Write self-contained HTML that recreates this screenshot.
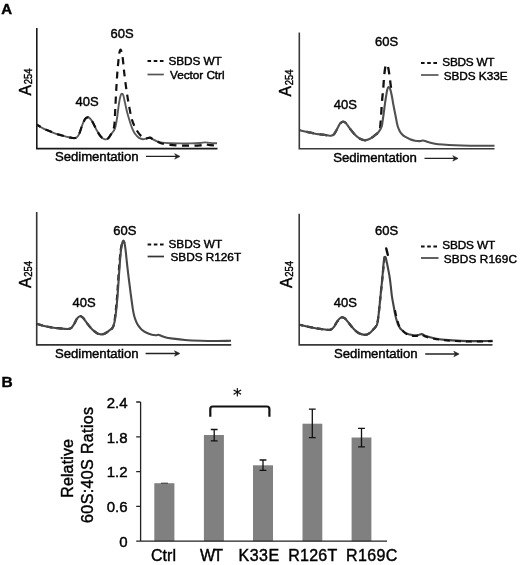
<!DOCTYPE html>
<html><head><meta charset="utf-8"><title>Figure</title>
<style>html,body{margin:0;padding:0;background:#fff}svg{display:block;filter:blur(.35px)}text{fill:#000;stroke:#000;stroke-width:.42px}</style></head>
<body>
<svg width="520" height="565" viewBox="0 0 520 565" font-family="'Liberation Sans', Arial, sans-serif" fill="#111">
<rect width="520" height="565" fill="#fff"/>
<text x="1.2" y="14.2" font-size="15" font-weight="bold">A</text>
<text x="1.4" y="387.2" font-size="15.5" font-weight="bold">B</text>
<path d="M36.8,28V148.6H217.5" fill="none" stroke="#1a1a1a" stroke-width="1.6"/>
<path d="M37.00,124.80C38.00,125.38 40.83,127.22 43.00,128.30C45.17,129.38 47.67,130.33 50.00,131.30C52.33,132.27 54.50,133.27 57.00,134.10C59.50,134.93 62.50,135.67 65.00,136.30C67.50,136.93 70.17,137.65 72.00,137.90C73.83,138.15 74.83,138.40 76.00,137.80C77.17,137.20 78.00,136.30 79.00,134.30C80.00,132.30 81.00,128.33 82.00,125.80C83.00,123.27 84.08,120.52 85.00,119.10C85.92,117.68 86.67,117.40 87.50,117.30C88.33,117.20 89.08,117.58 90.00,118.50C90.92,119.42 91.83,120.75 93.00,122.80C94.17,124.85 95.67,128.47 97.00,130.80C98.33,133.13 99.67,135.38 101.00,136.80C102.33,138.22 103.83,139.02 105.00,139.30C106.17,139.58 107.00,139.33 108.00,138.50C109.00,137.67 110.17,135.42 111.00,134.30C111.83,133.18 112.33,132.80 113.00,131.80C113.67,130.80 114.33,130.55 115.00,128.30C115.67,126.05 116.33,122.47 117.00,118.30C117.67,114.13 118.38,107.13 119.00,103.30C119.62,99.47 120.20,96.92 120.70,95.30C121.20,93.68 121.57,93.60 122.00,93.60C122.43,93.60 122.80,93.77 123.30,95.30C123.80,96.83 124.38,100.05 125.00,102.80C125.62,105.55 126.33,109.13 127.00,111.80C127.67,114.47 128.17,116.13 129.00,118.80C129.83,121.47 131.00,125.30 132.00,127.80C133.00,130.30 133.83,132.12 135.00,133.80C136.17,135.48 137.67,136.98 139.00,137.90C140.33,138.82 141.67,139.23 143.00,139.30C144.33,139.37 145.83,138.57 147.00,138.30C148.17,138.03 149.00,137.53 150.00,137.70C151.00,137.87 151.83,138.70 153.00,139.30C154.17,139.90 155.50,140.75 157.00,141.30C158.50,141.85 159.83,142.28 162.00,142.60C164.17,142.92 167.00,143.07 170.00,143.20C173.00,143.33 176.67,143.37 180.00,143.40C183.33,143.43 186.67,143.47 190.00,143.40C193.33,143.33 197.50,143.17 200.00,143.00C202.50,142.83 203.33,142.42 205.00,142.40C206.67,142.38 208.00,142.75 210.00,142.90C212.00,143.05 215.83,143.23 217.00,143.30" fill="none" stroke="#5a5a5a" stroke-width="1.9" stroke-linejoin="round"/>
<path d="M37.00,124.80C38.00,125.38 40.83,127.22 43.00,128.30C45.17,129.38 47.67,130.33 50.00,131.30C52.33,132.27 54.50,133.27 57.00,134.10C59.50,134.93 62.50,135.67 65.00,136.30C67.50,136.93 70.17,137.65 72.00,137.90C73.83,138.15 74.83,138.40 76.00,137.80C77.17,137.20 78.00,136.30 79.00,134.30C80.00,132.30 81.00,128.33 82.00,125.80C83.00,123.27 84.08,120.52 85.00,119.10C85.92,117.68 86.67,117.40 87.50,117.30C88.33,117.20 89.08,117.58 90.00,118.50C90.92,119.42 91.83,120.75 93.00,122.80C94.17,124.85 95.67,128.47 97.00,130.80C98.33,133.13 99.67,135.38 101.00,136.80C102.33,138.22 103.83,139.02 105.00,139.30C106.17,139.58 107.00,139.33 108.00,138.50C109.00,137.67 110.17,135.67 111.00,134.30C111.83,132.93 112.43,131.97 113.00,130.30C113.57,128.63 114.02,127.97 114.40,124.30C114.78,120.63 114.98,114.20 115.30,108.30C115.62,102.40 115.97,94.73 116.30,88.90C116.63,83.07 116.93,78.15 117.30,73.30C117.67,68.45 118.13,63.30 118.50,59.80C118.87,56.30 119.18,54.00 119.50,52.30C119.82,50.60 120.08,49.77 120.40,49.60C120.72,49.43 121.07,50.25 121.40,51.30C121.73,52.35 122.07,53.73 122.40,55.90C122.73,58.07 123.08,61.40 123.40,64.30C123.72,67.20 123.82,69.20 124.30,73.30C124.78,77.40 125.55,83.73 126.30,88.90C127.05,94.07 127.83,99.10 128.80,104.30C129.77,109.50 130.73,115.68 132.10,120.10C133.47,124.52 135.38,128.05 137.00,130.80C138.62,133.55 140.30,135.35 141.80,136.60C143.30,137.85 144.63,138.12 146.00,138.30C147.37,138.48 148.83,137.53 150.00,137.70C151.17,137.87 151.83,138.70 153.00,139.30C154.17,139.90 155.50,140.60 157.00,141.30C158.50,142.00 159.83,142.90 162.00,143.50C164.17,144.10 167.00,144.57 170.00,144.90C173.00,145.23 176.67,145.37 180.00,145.50C183.33,145.63 186.67,145.73 190.00,145.70C193.33,145.67 197.50,145.50 200.00,145.30C202.50,145.10 203.33,144.53 205.00,144.50C206.67,144.47 208.00,144.95 210.00,145.10C212.00,145.25 215.83,145.35 217.00,145.40" fill="none" stroke="#111" stroke-width="2.2" stroke-dasharray="7,5.5" stroke-dashoffset="2.78" stroke-linejoin="round"/>
<text transform="translate(30.5,95.5) rotate(-90)" font-size="15.8">A</text>
<text transform="translate(31.8,84.3) rotate(-90)" font-size="10.8" textLength="15.8" lengthAdjust="spacingAndGlyphs">254</text>
<text x="75.5" y="106.3" font-size="13">40S</text>
<text x="110.5" y="38" font-size="13">60S</text>
<text x="55" y="161.3" font-size="13.2" textLength="83.6" lengthAdjust="spacing">Sedimentation</text>
<path d="M146,156.4H178.5" fill="none" stroke="#222" stroke-width="1.3"/>
<path d="M180.0,156.4L174.7,153.70000000000002L176.3,156.4L174.7,159.1Z" fill="#222" stroke="#222" stroke-width="0.6" stroke-linejoin="round"/>
<path d="M147.5,61H163.8" stroke="#111" stroke-width="2" stroke-dasharray="3.6,2.6" fill="none"/>
<path d="M147.5,74.5H163.8" stroke="#555" stroke-width="1.7" fill="none"/>
<text x="168.5" y="65" font-size="11.8" textLength="53.2" lengthAdjust="spacing">SBDS WT</text>
<text x="170" y="78.7" font-size="11.8" textLength="54.6" lengthAdjust="spacing">Vector Ctrl</text>
<path d="M299.3,32.5V148.7H494.5" fill="none" stroke="#3a3a3a" stroke-width="1.6"/>
<path d="M299.50,130.20C300.58,130.45 303.75,131.20 306.00,131.70C308.25,132.20 310.67,132.75 313.00,133.20C315.33,133.65 317.67,134.05 320.00,134.40C322.33,134.75 325.17,135.08 327.00,135.30C328.83,135.52 329.83,135.88 331.00,135.70C332.17,135.52 333.00,135.28 334.00,134.20C335.00,133.12 336.00,130.95 337.00,129.20C338.00,127.45 339.00,124.95 340.00,123.70C341.00,122.45 342.00,121.78 343.00,121.70C344.00,121.62 344.83,122.03 346.00,123.20C347.17,124.37 348.50,126.78 350.00,128.70C351.50,130.62 353.33,133.03 355.00,134.70C356.67,136.37 358.33,137.77 360.00,138.70C361.67,139.63 363.33,140.30 365.00,140.30C366.67,140.30 368.33,139.55 370.00,138.70C371.67,137.85 373.58,136.28 375.00,135.20C376.42,134.12 377.67,133.28 378.50,132.20C379.33,131.12 379.58,131.28 380.00,128.70C380.42,126.12 380.67,121.20 381.00,116.70C381.33,112.20 381.62,106.53 382.00,101.70C382.38,96.87 382.95,91.87 383.30,87.70C383.65,83.53 383.78,80.03 384.10,76.70C384.42,73.37 384.78,69.78 385.20,67.70C385.62,65.62 386.12,64.28 386.60,64.20C387.08,64.12 387.65,65.53 388.10,67.20C388.55,68.87 388.95,71.87 389.30,74.20C389.65,76.53 389.92,78.95 390.20,81.20C390.48,83.45 390.77,85.78 391.00,87.70C391.23,89.62 391.50,91.87 391.60,92.70" fill="none" stroke="#111" stroke-width="2.3" stroke-dasharray="7.5,6" stroke-dashoffset="6.36" stroke-linejoin="round"/>
<path d="M299.50,130.20C300.58,130.45 303.75,131.20 306.00,131.70C308.25,132.20 310.67,132.75 313.00,133.20C315.33,133.65 317.67,134.05 320.00,134.40C322.33,134.75 325.17,135.08 327.00,135.30C328.83,135.52 329.83,135.88 331.00,135.70C332.17,135.52 333.00,135.28 334.00,134.20C335.00,133.12 336.00,130.95 337.00,129.20C338.00,127.45 339.00,124.95 340.00,123.70C341.00,122.45 342.00,121.78 343.00,121.70C344.00,121.62 344.83,122.03 346.00,123.20C347.17,124.37 348.50,126.78 350.00,128.70C351.50,130.62 353.33,133.03 355.00,134.70C356.67,136.37 358.33,137.77 360.00,138.70C361.67,139.63 363.33,140.30 365.00,140.30C366.67,140.30 368.33,139.55 370.00,138.70C371.67,137.85 373.58,136.28 375.00,135.20C376.42,134.12 377.40,133.62 378.50,132.20C379.60,130.78 380.88,128.78 381.60,126.70C382.32,124.62 382.43,122.03 382.80,119.70C383.17,117.37 383.37,115.87 383.80,112.70C384.23,109.53 384.83,104.50 385.40,100.70C385.97,96.90 386.67,92.18 387.20,89.90C387.73,87.62 388.10,87.12 388.60,87.00C389.10,86.88 389.67,87.75 390.20,89.20C390.73,90.65 391.28,93.17 391.80,95.70C392.32,98.23 392.70,101.18 393.30,104.40C393.90,107.62 394.70,111.47 395.40,115.00C396.10,118.53 396.82,122.98 397.50,125.60C398.18,128.22 398.75,129.27 399.50,130.70C400.25,132.13 401.08,133.20 402.00,134.20C402.92,135.20 403.67,135.87 405.00,136.70C406.33,137.53 408.33,138.53 410.00,139.20C411.67,139.87 413.33,140.38 415.00,140.70C416.67,141.02 418.67,141.13 420.00,141.10C421.33,141.07 422.00,140.47 423.00,140.50C424.00,140.53 425.00,141.00 426.00,141.30C427.00,141.60 427.50,141.90 429.00,142.30C430.50,142.70 432.75,143.33 435.00,143.70C437.25,144.07 439.17,144.23 442.50,144.50C445.83,144.77 450.42,145.10 455.00,145.30C459.58,145.50 465.00,145.63 470.00,145.70C475.00,145.77 480.92,145.70 485.00,145.70C489.08,145.70 492.92,145.70 494.50,145.70" fill="none" stroke="#505050" stroke-width="2.1" stroke-linejoin="round"/>
<text transform="translate(291.4,96.4) rotate(-90)" font-size="15.8">A</text>
<text transform="translate(293.2,85.2) rotate(-90)" font-size="10.8" textLength="15.8" lengthAdjust="spacingAndGlyphs">254</text>
<text x="333.7" y="109" font-size="13">40S</text>
<text x="375" y="45.5" font-size="13">60S</text>
<text x="333.2" y="162.4" font-size="13.2" textLength="83.6" lengthAdjust="spacing">Sedimentation</text>
<path d="M424.5,158.4H456.6" fill="none" stroke="#222" stroke-width="1.3"/>
<path d="M458.1,158.4L452.8,155.70000000000002L454.40000000000003,158.4L452.8,161.1Z" fill="#222" stroke="#222" stroke-width="0.6" stroke-linejoin="round"/>
<path d="M421,63H438.5" stroke="#111" stroke-width="2" stroke-dasharray="3.6,2.6" fill="none"/>
<path d="M421,75H438.5" stroke="#555" stroke-width="1.7" fill="none"/>
<text x="442.3" y="66" font-size="11.8" textLength="52.2" lengthAdjust="spacing">SBDS WT</text>
<text x="443.7" y="79.5" font-size="11.8" textLength="63.8" lengthAdjust="spacing">SBDS K33E</text>
<path d="M36.7,212V344.9H231.2" fill="none" stroke="#333" stroke-width="1.6"/>
<path d="M37.00,323.90C38.00,324.20 40.83,325.15 43.00,325.70C45.17,326.25 47.50,326.78 50.00,327.20C52.50,327.62 55.08,327.90 58.00,328.20C60.92,328.50 65.33,329.00 67.50,329.00C69.67,329.00 69.92,329.00 71.00,328.20C72.08,327.40 73.00,325.78 74.00,324.20C75.00,322.62 76.00,320.03 77.00,318.70C78.00,317.37 79.00,316.37 80.00,316.20C81.00,316.03 81.83,316.53 83.00,317.70C84.17,318.87 85.50,321.28 87.00,323.20C88.50,325.12 90.33,327.53 92.00,329.20C93.67,330.87 95.50,332.33 97.00,333.20C98.50,334.07 99.67,334.35 101.00,334.40C102.33,334.45 103.67,334.12 105.00,333.50C106.33,332.88 107.75,331.65 109.00,330.70C110.25,329.75 111.62,329.13 112.50,327.80C113.38,326.47 113.78,325.30 114.30,322.70C114.82,320.10 115.18,315.95 115.60,312.20C116.02,308.45 116.42,304.70 116.80,300.20C117.18,295.70 117.50,290.87 117.90,285.20C118.30,279.53 118.73,272.03 119.20,266.20C119.67,260.37 120.20,254.07 120.70,250.20C121.20,246.33 121.75,244.53 122.20,243.00C122.65,241.47 123.03,240.97 123.40,241.00C123.77,241.03 124.23,242.83 124.40,243.20" fill="none" stroke="#111" stroke-width="2.2" stroke-dasharray="6,4" stroke-linejoin="round"/>
<path d="M37.00,323.90C38.00,324.20 40.83,325.15 43.00,325.70C45.17,326.25 47.50,326.78 50.00,327.20C52.50,327.62 55.08,327.90 58.00,328.20C60.92,328.50 65.33,329.00 67.50,329.00C69.67,329.00 69.92,329.00 71.00,328.20C72.08,327.40 73.00,325.78 74.00,324.20C75.00,322.62 76.00,320.03 77.00,318.70C78.00,317.37 79.00,316.37 80.00,316.20C81.00,316.03 81.83,316.53 83.00,317.70C84.17,318.87 85.50,321.28 87.00,323.20C88.50,325.12 90.33,327.53 92.00,329.20C93.67,330.87 95.50,332.33 97.00,333.20C98.50,334.07 99.67,334.35 101.00,334.40C102.33,334.45 103.67,334.12 105.00,333.50C106.33,332.88 107.75,331.65 109.00,330.70C110.25,329.75 111.58,329.22 112.50,327.80C113.42,326.38 113.92,324.80 114.50,322.20C115.08,319.60 115.55,315.87 116.00,312.20C116.45,308.53 116.82,304.70 117.20,300.20C117.58,295.70 117.90,290.87 118.30,285.20C118.70,279.53 119.15,272.03 119.60,266.20C120.05,260.37 120.55,254.12 121.00,250.20C121.45,246.28 121.90,244.32 122.30,242.70C122.70,241.08 123.03,240.50 123.40,240.50C123.77,240.50 124.13,241.08 124.50,242.70C124.87,244.32 125.13,246.28 125.60,250.20C126.07,254.12 126.80,261.70 127.30,266.20C127.80,270.70 128.15,273.53 128.60,277.20C129.05,280.87 129.52,284.45 130.00,288.20C130.48,291.95 131.00,296.05 131.50,299.70C132.00,303.35 132.53,307.35 133.00,310.10C133.47,312.85 133.83,314.43 134.30,316.20C134.77,317.97 135.18,319.20 135.80,320.70C136.42,322.20 137.05,323.75 138.00,325.20C138.95,326.65 140.17,328.18 141.50,329.40C142.83,330.62 144.25,331.60 146.00,332.50C147.75,333.40 150.33,334.35 152.00,334.80C153.67,335.25 154.92,335.20 156.00,335.20C157.08,335.20 157.67,334.72 158.50,334.80C159.33,334.88 159.75,335.25 161.00,335.70C162.25,336.15 164.17,337.03 166.00,337.50C167.83,337.97 168.83,338.08 172.00,338.50C175.17,338.92 180.17,339.62 185.00,340.00C189.83,340.38 196.00,340.63 201.00,340.80C206.00,340.97 210.00,341.00 215.00,341.00C220.00,341.00 228.33,340.83 231.00,340.80" fill="none" stroke="#484848" stroke-width="2.1" stroke-linejoin="round"/>
<text transform="translate(30.5,287.9) rotate(-90)" font-size="15.8">A</text>
<text transform="translate(31.8,276.7) rotate(-90)" font-size="10.8" textLength="15.8" lengthAdjust="spacingAndGlyphs">254</text>
<text x="72.5" y="306.7" font-size="13">40S</text>
<text x="113.3" y="234.6" font-size="13">60S</text>
<text x="55" y="358.2" font-size="13.2" textLength="83.6" lengthAdjust="spacing">Sedimentation</text>
<path d="M145.6,353.5H178.3" fill="none" stroke="#222" stroke-width="1.3"/>
<path d="M179.8,353.5L174.5,350.8L176.10000000000002,353.5L174.5,356.2Z" fill="#222" stroke="#222" stroke-width="0.6" stroke-linejoin="round"/>
<path d="M147.6,244.6H164" stroke="#111" stroke-width="2" stroke-dasharray="3.6,2.6" fill="none"/>
<path d="M147.6,256.5H164" stroke="#333" stroke-width="1.7" fill="none"/>
<text x="168.4" y="248" font-size="11.8" textLength="53.8" lengthAdjust="spacing">SBDS WT</text>
<text x="170.5" y="261" font-size="11.8" textLength="70.6" lengthAdjust="spacing">SBDS R126T</text>
<path d="M299.2,213.7V344.9H492.5" fill="none" stroke="#3a3a3a" stroke-width="1.6"/>
<path d="M299.50,324.80C300.58,325.05 303.75,325.82 306.00,326.30C308.25,326.78 310.67,327.27 313.00,327.70C315.33,328.13 317.58,328.53 320.00,328.90C322.42,329.27 325.67,329.80 327.50,329.90C329.33,330.00 329.92,330.02 331.00,329.50C332.08,328.98 333.00,328.08 334.00,326.80C335.00,325.52 336.00,323.22 337.00,321.80C338.00,320.38 339.08,319.05 340.00,318.30C340.92,317.55 341.67,317.27 342.50,317.30C343.33,317.33 343.92,317.50 345.00,318.50C346.08,319.50 347.50,321.50 349.00,323.30C350.50,325.10 352.33,327.63 354.00,329.30C355.67,330.97 357.17,332.37 359.00,333.30C360.83,334.23 363.17,334.98 365.00,334.90C366.83,334.82 368.58,333.73 370.00,332.80C371.42,331.87 372.50,330.38 373.50,329.30C374.50,328.22 375.38,327.13 376.00,326.30C376.62,325.47 376.77,326.22 377.20,324.30C377.63,322.38 378.05,319.47 378.60,314.80C379.15,310.13 379.87,302.47 380.50,296.30C381.13,290.13 381.85,283.13 382.40,277.80C382.95,272.47 383.33,268.47 383.80,264.30C384.27,260.13 384.97,254.72 385.20,252.80" fill="none" stroke="#111" stroke-width="2.2" stroke-dasharray="6,4" stroke-dashoffset="2.30" stroke-linejoin="round"/>
<path d="M299.50,324.80C300.58,325.05 303.75,325.82 306.00,326.30C308.25,326.78 310.67,327.27 313.00,327.70C315.33,328.13 317.58,328.53 320.00,328.90C322.42,329.27 325.67,329.80 327.50,329.90C329.33,330.00 329.92,330.02 331.00,329.50C332.08,328.98 333.00,328.08 334.00,326.80C335.00,325.52 336.00,323.22 337.00,321.80C338.00,320.38 339.08,319.05 340.00,318.30C340.92,317.55 341.67,317.27 342.50,317.30C343.33,317.33 343.92,317.50 345.00,318.50C346.08,319.50 347.50,321.50 349.00,323.30C350.50,325.10 352.33,327.63 354.00,329.30C355.67,330.97 357.17,332.37 359.00,333.30C360.83,334.23 363.17,334.98 365.00,334.90C366.83,334.82 368.58,333.73 370.00,332.80C371.42,331.87 372.50,330.38 373.50,329.30C374.50,328.22 375.38,327.20 376.00,326.30C376.62,325.40 376.77,325.85 377.20,323.90C377.63,321.95 378.20,317.70 378.60,314.60C379.00,311.50 379.28,308.38 379.60,305.30C379.92,302.22 380.18,299.27 380.50,296.10C380.82,292.93 381.18,289.40 381.50,286.30C381.82,283.20 382.10,280.83 382.40,277.50C382.70,274.17 383.03,269.25 383.30,266.30C383.57,263.35 383.75,261.37 384.00,259.80C384.25,258.23 384.50,257.23 384.80,256.90C385.10,256.57 385.47,256.90 385.80,257.80C386.13,258.70 386.40,260.38 386.80,262.30C387.20,264.22 387.72,266.77 388.20,269.30C388.68,271.83 389.27,274.67 389.70,277.50C390.13,280.33 390.43,283.20 390.80,286.30C391.17,289.40 391.45,292.93 391.90,296.10C392.35,299.27 392.95,302.22 393.50,305.30C394.05,308.38 394.70,312.18 395.20,314.60C395.70,317.02 396.07,318.25 396.50,319.80C396.93,321.35 397.30,322.65 397.80,323.90C398.30,325.15 398.88,326.32 399.50,327.30C400.12,328.28 400.45,328.82 401.50,329.80C402.55,330.78 404.38,332.40 405.80,333.20C407.22,334.00 408.63,334.25 410.00,334.60C411.37,334.95 412.67,335.22 414.00,335.30C415.33,335.38 416.72,335.30 418.00,335.10C419.28,334.90 420.37,333.93 421.70,334.10C423.03,334.27 423.95,335.40 426.00,336.10C428.05,336.80 430.83,337.67 434.00,338.30C437.17,338.93 440.53,339.47 445.00,339.90C449.47,340.33 455.80,340.70 460.80,340.90C465.80,341.10 469.72,341.10 475.00,341.10C480.28,341.10 489.58,340.93 492.50,340.90" fill="none" stroke="#444" stroke-width="2.1" stroke-linejoin="round"/>
<path d="M386.2,248.4L387.8,254.8" fill="none" stroke="#111" stroke-width="2.4" stroke-linecap="round"/>
<path d="M394.20,305.30C394.48,306.85 395.20,311.50 395.90,314.60C396.60,317.70 397.68,321.73 398.40,323.90C399.12,326.07 399.55,326.53 400.20,327.60C400.85,328.67 401.33,329.28 402.30,330.30C403.27,331.32 404.72,332.87 406.00,333.70C407.28,334.53 408.67,334.90 410.00,335.30C411.33,335.70 412.67,336.03 414.00,336.10C415.33,336.17 416.75,335.92 418.00,335.70C419.25,335.48 420.17,334.62 421.50,334.80C422.83,334.98 423.92,336.13 426.00,336.80C428.08,337.47 430.83,338.22 434.00,338.80C437.17,339.38 440.67,339.88 445.00,340.30C449.33,340.72 455.00,341.10 460.00,341.30C465.00,341.50 469.58,341.50 475.00,341.50C480.42,341.50 489.58,341.33 492.50,341.30" fill="none" stroke="#111" stroke-width="2" stroke-dasharray="6,5" stroke-dashoffset="-5" stroke-linejoin="round"/>
<text transform="translate(291.5,287.9) rotate(-90)" font-size="15.8">A</text>
<text transform="translate(293.3,276.7) rotate(-90)" font-size="10.8" textLength="15.8" lengthAdjust="spacingAndGlyphs">254</text>
<text x="333.7" y="306.7" font-size="13">40S</text>
<text x="375" y="235" font-size="13">60S</text>
<text x="334" y="358.1" font-size="13.2" textLength="83.6" lengthAdjust="spacing">Sedimentation</text>
<path d="M425.2,354H457.6" fill="none" stroke="#222" stroke-width="1.3"/>
<path d="M459.1,354L453.8,351.3L455.40000000000003,354L453.8,356.7Z" fill="#222" stroke="#222" stroke-width="0.6" stroke-linejoin="round"/>
<path d="M421,246.5H438.5" stroke="#111" stroke-width="2" stroke-dasharray="3.6,2.6" fill="none"/>
<path d="M421,258H438.5" stroke="#444" stroke-width="1.7" fill="none"/>
<text x="442.3" y="249.2" font-size="11.8" textLength="52.8" lengthAdjust="spacing">SBDS WT</text>
<text x="443.8" y="262.8" font-size="11.8" textLength="73.2" lengthAdjust="spacing">SBDS R169C</text>
<rect x="154.3" y="483.2" width="20.1" height="58.0" fill="#808080"/>
<rect x="203.9" y="435" width="20.0" height="106.2" fill="#808080"/>
<rect x="253" y="465.3" width="20.0" height="75.9" fill="#808080"/>
<rect x="302.5" y="423.7" width="19.8" height="117.5" fill="#808080"/>
<rect x="351.6" y="437.5" width="19.8" height="103.7" fill="#808080"/>
<path d="M214.2,429.5V440.8M210.79999999999998,429.5h6.8M210.79999999999998,440.8h6.8" stroke="#111" stroke-width="1.3" fill="none"/>
<path d="M263,460V470.3M259.6,460h6.8M259.6,470.3h6.8" stroke="#111" stroke-width="1.3" fill="none"/>
<path d="M312.3,409.2V437.7M308.90000000000003,409.2h6.8M308.90000000000003,437.7h6.8" stroke="#111" stroke-width="1.3" fill="none"/>
<path d="M361.5,428.3V446.8M358.1,428.3h6.8M358.1,446.8h6.8" stroke="#111" stroke-width="1.3" fill="none"/>
<path d="M161,483.2h7" stroke="#333" stroke-width="1" fill="none"/>
<path d="M140.6,402V541.2M136.2,402H140.6M136.2,436.8H140.6M136.2,471.6H140.6M136.2,506.4H140.6M136.2,541.2H387" stroke="#222" stroke-width="1.3" fill="none"/>
<text x="127.6" y="407.8" font-size="15" text-anchor="end">2.4</text>
<text x="127.6" y="442.6" font-size="15" text-anchor="end">1.8</text>
<text x="127.6" y="477.4" font-size="15" text-anchor="end">1.2</text>
<text x="127.6" y="512.2" font-size="15" text-anchor="end">0.6</text>
<text x="127.6" y="547.0" font-size="15" text-anchor="end">0</text>
<text x="151" y="560.5" font-size="16" textLength="25" lengthAdjust="spacing">Ctrl</text>
<text x="199.9" y="560.5" font-size="16" textLength="23.2" lengthAdjust="spacing">WT</text>
<text x="238.5" y="560.5" font-size="16" textLength="40.6" lengthAdjust="spacing">K33E</text>
<text x="288.2" y="560.5" font-size="16" textLength="49" lengthAdjust="spacing">R126T</text>
<text x="346" y="560.5" font-size="16" textLength="51.3" lengthAdjust="spacing">R169C</text>
<text transform="translate(73.4,497.8) rotate(-90)" font-size="16" textLength="58.8" lengthAdjust="spacing">Relative</text>
<text transform="translate(92.9,522.9) rotate(-90)" font-size="16" textLength="116" lengthAdjust="spacing">60S:40S Ratios</text>
<path d="M210.3,416.8V409Q210.3,406.5 212.8,406.5H266.9Q269.4,406.5 269.4,409V416.8" fill="none" stroke="#111" stroke-width="2.2"/>
<text x="237.4" y="400.6" font-size="17.5" text-anchor="middle" font-family="'DejaVu Sans', sans-serif" style="stroke-width:.15px">*</text>
</svg>
</body></html>
